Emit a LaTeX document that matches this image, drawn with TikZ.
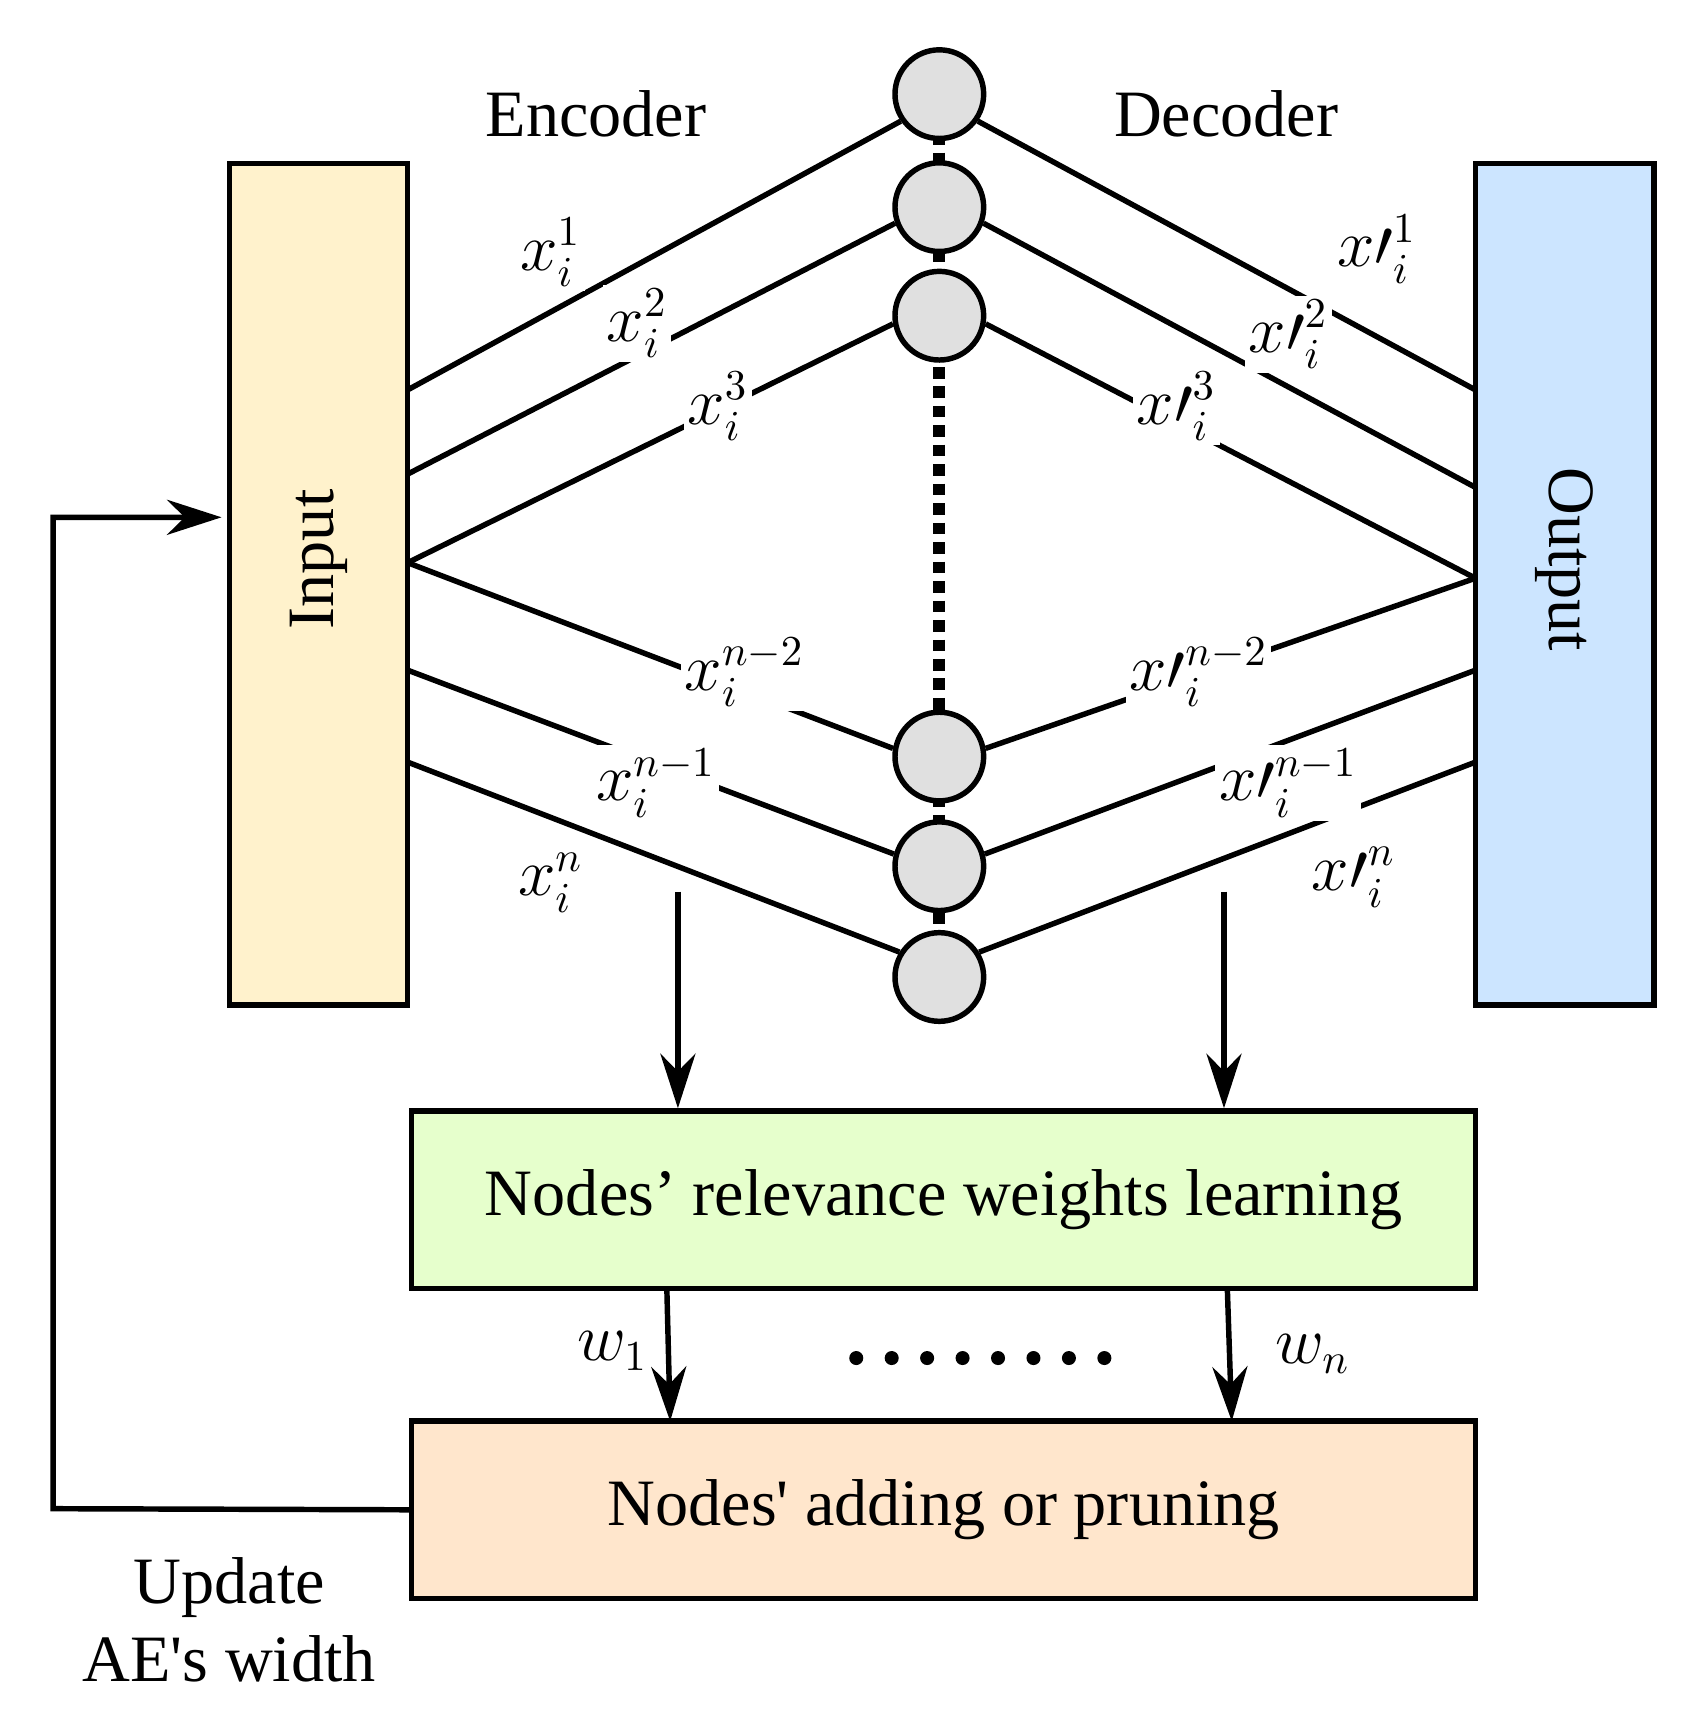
\documentclass[tikz,border=0pt]{standalone}
\usepackage{fontspec}
\setmainfont{Liberation Serif}
\usepackage{textcomp}
\usetikzlibrary{arrows.meta}
\definecolor{inY}{HTML}{FFF2CC}
\definecolor{outB}{HTML}{CCE5FF}
\definecolor{grn}{HTML}{E6FFCC}
\definecolor{org}{HTML}{FFE6CC}
\definecolor{cg}{HTML}{E0E0E0}
\begin{document}
\begin{tikzpicture}[x=0.01cm,y=-0.01cm,line width=1.4pt,
  box/.style={draw,line width=1.4pt,inner sep=0pt},
  neu/.style={circle,draw,fill=cg,minimum size=0.8cm,inner sep=0pt,line width=1.4pt},
  lab/.style={fill=white,inner sep=1pt,font=\fontsize{16}{18}\selectfont},
  txt/.style={font=\fontsize{17}{20}\selectfont},
  arr/.style={-{Stealth[length=14pt,width=9pt]},line width=1.4pt}]
\useasboundingbox (0,0) rectangle (1525,1560);
\node[box,fill=inY,minimum width=1.61cm,minimum height=7.59cm] (in) at (287.5,527.5) {};
\node[rotate=90,txt] at (287.5,505) {Input};
\node[box,fill=outB,minimum width=1.61cm,minimum height=7.59cm] (out) at (1412.5,527.5) {};
\node[rotate=-90,txt] at (1412.5,505) {Output};
\draw[dotted,line width=3pt] (848,85) -- (848,882);
\foreach \n/\y in {c1/85,c2/187,c3/285,c4/683,c5/782,c6/882} \node[neu] (\n) at (848,\y) {};
\node[txt] at (538,103) {Encoder};
\node[txt] at (1107,103) {Decoder};
\coordinate (i1) at (368,352); \coordinate (i2) at (368,428); \coordinate (i3) at (368,508);
\coordinate (i5) at (368,605); \coordinate (i6) at (368,688);
\draw (i1) -- (c1.215);
\draw (i2) -- (c2.200);
\draw (i3) -- (c3.190);
\draw (i3) -- (c4.170);
\draw (i5) -- (c5.165);
\draw (i6) -- (c6.148);
\coordinate (o1) at (1332,352); \coordinate (o2) at (1332,440); \coordinate (o3) at (1332,522);
\coordinate (o5) at (1332,605); \coordinate (o6) at (1332,688);
\draw (o1) -- (c1.-35);
\draw (o2) -- (c2.-20);
\draw (o3) -- (c3.-10);
\draw (o3) -- (c4.10);
\draw (o5) -- (c5.15);
\draw (o6) -- (c6.32);
\node[lab] at (497,228) {$x_i^1$};
\node[lab] at (575,292) {$x_i^2$};
\node[lab] at (648,367) {$x_i^3$};
\node[lab] at (672,607) {$x_i^{n-2}$};
\node[lab] at (592,707) {$x_i^{n-1}$};
\node[lab] at (497,797) {$x_i^n$};
\node[lab] at (1243,225) {$x\prime_i^1$};
\node[lab] at (1163,302) {$x\prime_i^2$};
\node[lab] at (1062,367) {$x\prime_i^3$};
\node[lab] at (1082,607) {$x\prime_i^{n-2}$};
\node[lab] at (1163,707) {$x\prime_i^{n-1}$};
\node[lab] at (1222,792) {$x\prime_i^n$};
\node[box,fill=grn,minimum width=9.6cm,minimum height=1.6cm,txt] (g) at (852,1083) {Nodes’ relevance weights learning};
\node[box,fill=org,minimum width=9.6cm,minimum height=1.6cm,txt] (p) at (852,1363) {Nodes\textquotesingle{} adding or pruning};
\coordinate (a1) at (612,805); \coordinate (a2) at (1105,805);
\draw[arr] (a1) -- (a1 |- g.north);
\draw[arr] (a2) -- (a2 |- g.north);
\draw[arr] (602,1163) -- (605,1283);
\draw[arr] (1108,1163) -- (1112,1283);
\node[lab,fill=none] at (553,1220) {$w_1$};
\node[lab,fill=none] at (1185,1222) {$w_n$};
\foreach \k in {0,...,7} \fill (773+\k*32,1226) circle (1.8pt);
\coordinate (f1) at (48,1362); \coordinate (f2) at (48,467);
\draw[arr] (p.west) -- (f1) -- (f2) -- (200,467);
\node[txt,align=center] at (207,1462) {Update\\AE\textquotesingle{}s width};
\end{tikzpicture}
\end{document}
